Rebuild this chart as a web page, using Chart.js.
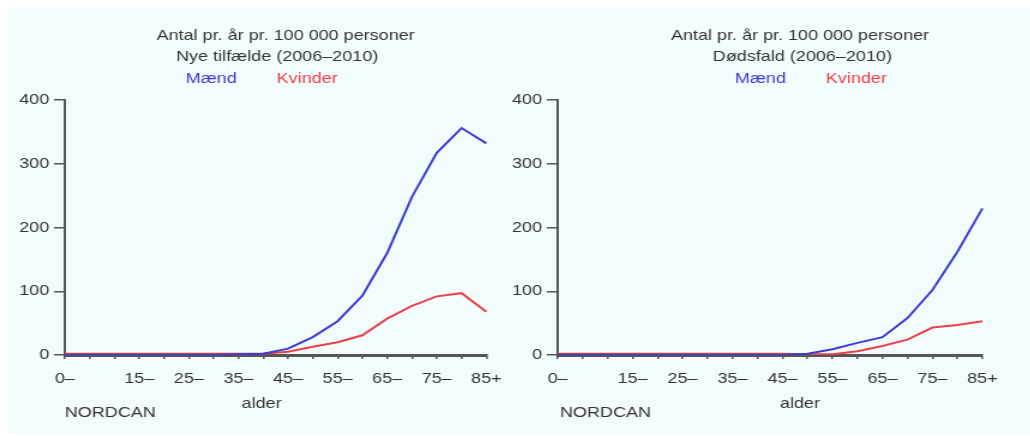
<!DOCTYPE html>
<html lang="da">
<head>
    <meta charset="UTF-8">
    <title>Antal pr. år pr. 100 000 personer</title>
    <script src="https://cdn.jsdelivr.net/npm/chart.js"></script>
    <style>
        body {
            margin: 0;
            background: #fff;
            font-family: "Liberation Sans", Arial, sans-serif;
        }
        #bg {
            position: absolute;
            left: 8px;
            top: 8px;
            width: 1022px;
            height: 426px;
            background: #f3fcfd;
        }
        /* the original picture is a bit wider than tall, stretch the panels */
        .panel {
            position: absolute;
            top: 0;
            height: 436px;
            transform: scaleX(1.2);
            transform-origin: 0 0;
        }
        #left { left: 0; width: 429px; }
        #right { left: 500px; width: 442px; }
    </style>
</head>
<body>
    <div id="bg"></div>
    <div class="panel" id="left"><canvas id="incChart"></canvas></div>
    <div class="panel" id="right"><canvas id="mortChart"></canvas></div>

    <script>
        // aldersgrupper 0-4 ... 85+
        const ageGroups = ['0–', '5–', '10–', '15–', '20–', '25–', '30–', '35–', '40–',
                           '45–', '50–', '55–', '60–', '65–', '70–', '75–', '80–', '85+'];
        const shownLabels = ['0–', '15–', '25–', '35–', '45–', '55–', '65–', '75–', '85+'];
        const yTicks = [0, 100, 200, 300, 400];

        // Nye tilfælde (2006-2010)
        const incMen   = [0.5, 0.5, 0.5, 0.5, 0.5, 0.5, 0.5, 1, 2, 10, 28, 53, 93, 160, 248, 317, 356, 332];
        const incWomen = [2, 2, 2, 2, 2, 2, 2, 2, 2, 5, 13, 20, 31, 57, 77, 92, 97, 68];

        // Dødsfald (2006-2010)
        const mortMen   = [0.5, 0.5, 0.5, 0.5, 0.5, 0.5, 0.5, 0.5, 0.5, 0.5, 2, 9, 19, 28, 58, 102, 162, 230];
        const mortWomen = [2, 2, 2, 2, 2, 2, 2, 2, 2, 2, 1, 1, 6, 14, 24, 43, 47, 53];

        const blue = '#3a3ad4';
        const red = '#ec3f48';
        const textColor = '#333';
        const axisColor = '#555';
        const fontFamily = '"Liberation Sans", Arial, sans-serif';

        const panelText = {
            id: 'panelText',
            afterDraw(chart, args, opts) {
                const ctx = chart.ctx;
                ctx.save();
                ctx.font = '15px ' + fontFamily;
                ctx.textBaseline = 'middle';
                ctx.textAlign = 'center';
                ctx.fillStyle = textColor;
                ctx.fillText('Antal pr. år pr. 100 000 personer', opts.x1, 36);
                ctx.fillText(opts.subtitle, opts.x2, 57);
                ctx.fillStyle = blue;
                ctx.fillText('Mænd', opts.menX, 79);
                ctx.fillStyle = red;
                ctx.fillText('Kvinder', opts.womenX, 79);
                ctx.fillStyle = textColor;
                ctx.fillText('alder', opts.alderX, 404);
                ctx.textAlign = 'left';
                ctx.fillText('NORDCAN', opts.nordcanX, 413);
                ctx.restore();
            }
        };

        function makeChart(id, men, women, opts) {
            const ctx = document.getElementById(id).getContext('2d');
            return new Chart(ctx, {
                type: 'line',
                data: {
                    labels: ageGroups,
                    datasets: [
                        {
                            label: 'Mænd',
                            data: men,
                            borderColor: blue,
                            borderWidth: 2,
                            pointRadius: 0,
                            tension: 0,
                            fill: false,
                        },
                        {
                            label: 'Kvinder',
                            data: women,
                            borderColor: red,
                            borderWidth: 2,
                            pointRadius: 0,
                            tension: 0,
                            fill: false,
                        },
                    ],
                },
                options: {
                    responsive: true,
                    maintainAspectRatio: false,
                    animation: false,
                    layout: {
                        padding: { top: 100, right: opts.padRight, left: 0, bottom: 0 },
                    },
                    scales: {
                        x: {
                            type: 'category',
                            offset: false,
                            afterFit: s => { s.height = 81; },
                            border: { color: axisColor, width: 3 },
                            grid: {
                                drawOnChartArea: false,
                                color: axisColor,
                                tickLength: 4,
                                lineWidth: 1.5,
                            },
                            ticks: {
                                autoSkip: false,
                                maxRotation: 0,
                                padding: 11,
                                color: textColor,
                                font: { family: fontFamily, size: 15 },
                                callback: function (value) {
                                    const lbl = this.getLabelForValue(value);
                                    return shownLabels.includes(lbl) ? lbl : '';
                                },
                            },
                        },
                        y: {
                            min: 0,
                            max: 400,
                            afterFit: s => { s.width = opts.yWidth; },
                            afterBuildTicks: s => { s.ticks = yTicks.map(v => ({ value: v })); },
                            border: { color: axisColor, width: 2 },
                            grid: {
                                drawOnChartArea: false,
                                color: axisColor,
                                tickLength: 9,
                                lineWidth: 1.5,
                            },
                            ticks: {
                                padding: 4,
                                color: textColor,
                                font: { family: fontFamily, size: 15 },
                            },
                        },
                    },
                    plugins: {
                        legend: { display: false },
                        tooltip: { enabled: false },
                        panelText: opts,
                    },
                },
                plugins: [panelText],
            });
        }

        makeChart('incChart', incMen, incWomen, {
            subtitle: 'Nye tilfælde (2006–2010)',
            x1: 238, x2: 231, menX: 176, womenX: 256,
            alderX: 218, nordcanX: 54,
            yWidth: 54, padRight: 23,
        });

        makeChart('mortChart', mortMen, mortWomen, {
            subtitle: 'Dødsfald (2006–2010)',
            x1: 250, x2: 252, menX: 217, womenX: 297,
            alderX: 250, nordcanX: 50,
            yWidth: 48, padRight: 40,
        });
    </script>
</body>
</html>
